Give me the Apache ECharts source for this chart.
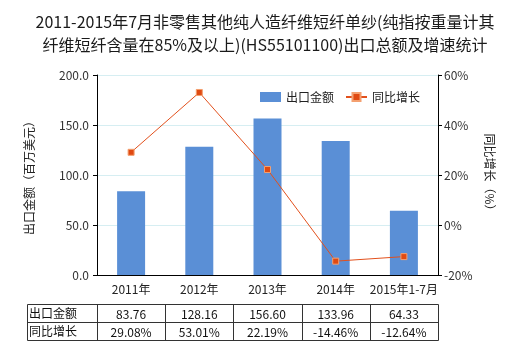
<!DOCTYPE html>
<html><head><meta charset="utf-8">
<script src="https://cdn.jsdelivr.net/npm/echarts@6/dist/echarts.min.js"></script>
<style>html,body{margin:0;padding:0;background:#fff}#c{width:520px;height:350px}</style>
</head><body><div id="c"></div><script>
const categories = ['2011年', '2012年', '2013年', '2014年', '2015年1-7月'];
const exportValues = [83.76, 128.16, 156.60, 133.96, 64.33];
const growthValues = [29.08, 53.01, 22.19, -14.46, -12.64];
const exportLabels = ['83.76', '128.16', '156.60', '133.96', '64.33'];
const growthLabels = ['29.08%', '53.01%', '22.19%', '-14.46%', '-12.64%'];
const seriesNames = ['出口金额', '同比增长'];
const titleText = '2011-2015年7月非零售其他纯人造纤维短纤单纱(纯指按重量计其\n纤维短纤含量在85%及以上)(HS55101100)出口总额及增速统计';
const leftAxisName = '出口金额（百万美元）';
const rightAxisName = '同比增长（%）';

const FONT = '"Noto Sans CJK SC", "Noto Sans", sans-serif';
const chart = echarts.init(document.getElementById('c'), null, {renderer: 'canvas'});
const GL = 97, GR = 438, GT = 75, GB = 275;

chart.setOption({
  animation: false,
  textStyle: {fontFamily: FONT},
  title: {
    text: titleText, left: 260, top: 5, textAlign: 'center',
    textStyle: {fontSize: 16, fontWeight: 'normal', color: '#1a1a1a', lineHeight: 23, fontFamily: FONT, align: 'center'}
  },
  legend: {
    left: 255, top: 86, itemGap: 11, itemWidth: 21, itemHeight: 10,
    textStyle: {fontSize: 12, color: '#222', fontFamily: FONT},
    data: [{name: seriesNames[0], icon: 'rect'}, {name: seriesNames[1]}]
  },
  grid: {left: GL, right: 520 - GR, top: GT, bottom: 350 - GB, containLabel: false},
  xAxis: {
    type: 'category', data: categories,
    axisLine: {lineStyle: {color: '#000', width: 1}},
    axisTick: {alignWithLabel: true, length: 4, lineStyle: {color: '#000'}},
    axisLabel: {fontSize: 12, color: '#222', margin: 8, fontFamily: FONT, interval: 0},
    splitLine: {show: false}
  },
  yAxis: [{
    type: 'value', min: 0, max: 200, interval: 50,
    name: leftAxisName, nameLocation: 'middle', nameGap: 62, nameRotate: 90,
    nameTextStyle: {fontSize: 12, color: '#222', fontFamily: FONT},
    axisLine: {show: true, lineStyle: {color: '#000'}},
    axisTick: {show: true, length: 4, lineStyle: {color: '#000'}},
    axisLabel: {fontSize: 12, color: '#333', margin: 8, formatter: v => v.toFixed(1)},
    splitLine: {show: true, lineStyle: {color: '#d6eef2', width: 1}}
  }, {
    type: 'value', min: -20, max: 60, interval: 20,
    name: rightAxisName, nameLocation: 'middle', nameGap: 42, nameRotate: -90,
    nameTextStyle: {fontSize: 12, color: '#222', fontFamily: FONT},
    axisLine: {show: true, lineStyle: {color: '#000'}},
    axisTick: {show: true, length: 4, lineStyle: {color: '#000'}},
    axisLabel: {fontSize: 12, color: '#333', margin: 6, formatter: '{value}%'},
    splitLine: {show: false}
  }],
  series: [{
    name: seriesNames[0], type: 'bar', data: exportValues, barWidth: 28,
    itemStyle: {color: '#5a8fd6'}
  }, {
    name: seriesNames[1], type: 'line', yAxisIndex: 1, data: growthValues,
    symbol: 'rect', symbolSize: 6,
    lineStyle: {color: '#e2501c', width: 1},
    itemStyle: {color: '#e04a12', borderColor: '#f4a070', borderWidth: 1}
  }]
});

// data table below the chart
const bandW = (GR - GL) / categories.length;
const T0 = 304.5, T1 = 322.5, T2 = 340.5, TL = 27.5, TR = GR + 0.5;
const g = [];
const line = (x1, y1, x2, y2) => g.push({type: 'line', shape: {x1, y1, x2, y2}, style: {stroke: '#333', lineWidth: 1}, silent: true});
line(TL, T0, TR, T0); line(TL, T1, TR, T1); line(TL, T2, TR, T2);
line(TL, T0, TL, T2);
for (let i = 0; i <= categories.length; i++) {
  const x = Math.round(GL + i * bandW) + 0.5;
  line(x, T0, x, T2);
}
const txt = (t, x, y, align) => g.push({type: 'text', x, y, silent: true,
  style: {text: t, fill: '#111', font: '12px ' + FONT, textAlign: align, textVerticalAlign: 'middle'}});
txt(seriesNames[0], 29, (T0 + T1) / 2, 'left');
txt(seriesNames[1], 29, (T1 + T2) / 2, 'left');
categories.forEach((c, i) => {
  const x = chart.convertToPixel({xAxisIndex: 0}, c);
  txt(exportLabels[i], x, (T0 + T1) / 2 + 1, 'center');
  txt(growthLabels[i], x, (T1 + T2) / 2 + 1, 'center');
});
chart.setOption({graphic: g});
</script></body></html>
